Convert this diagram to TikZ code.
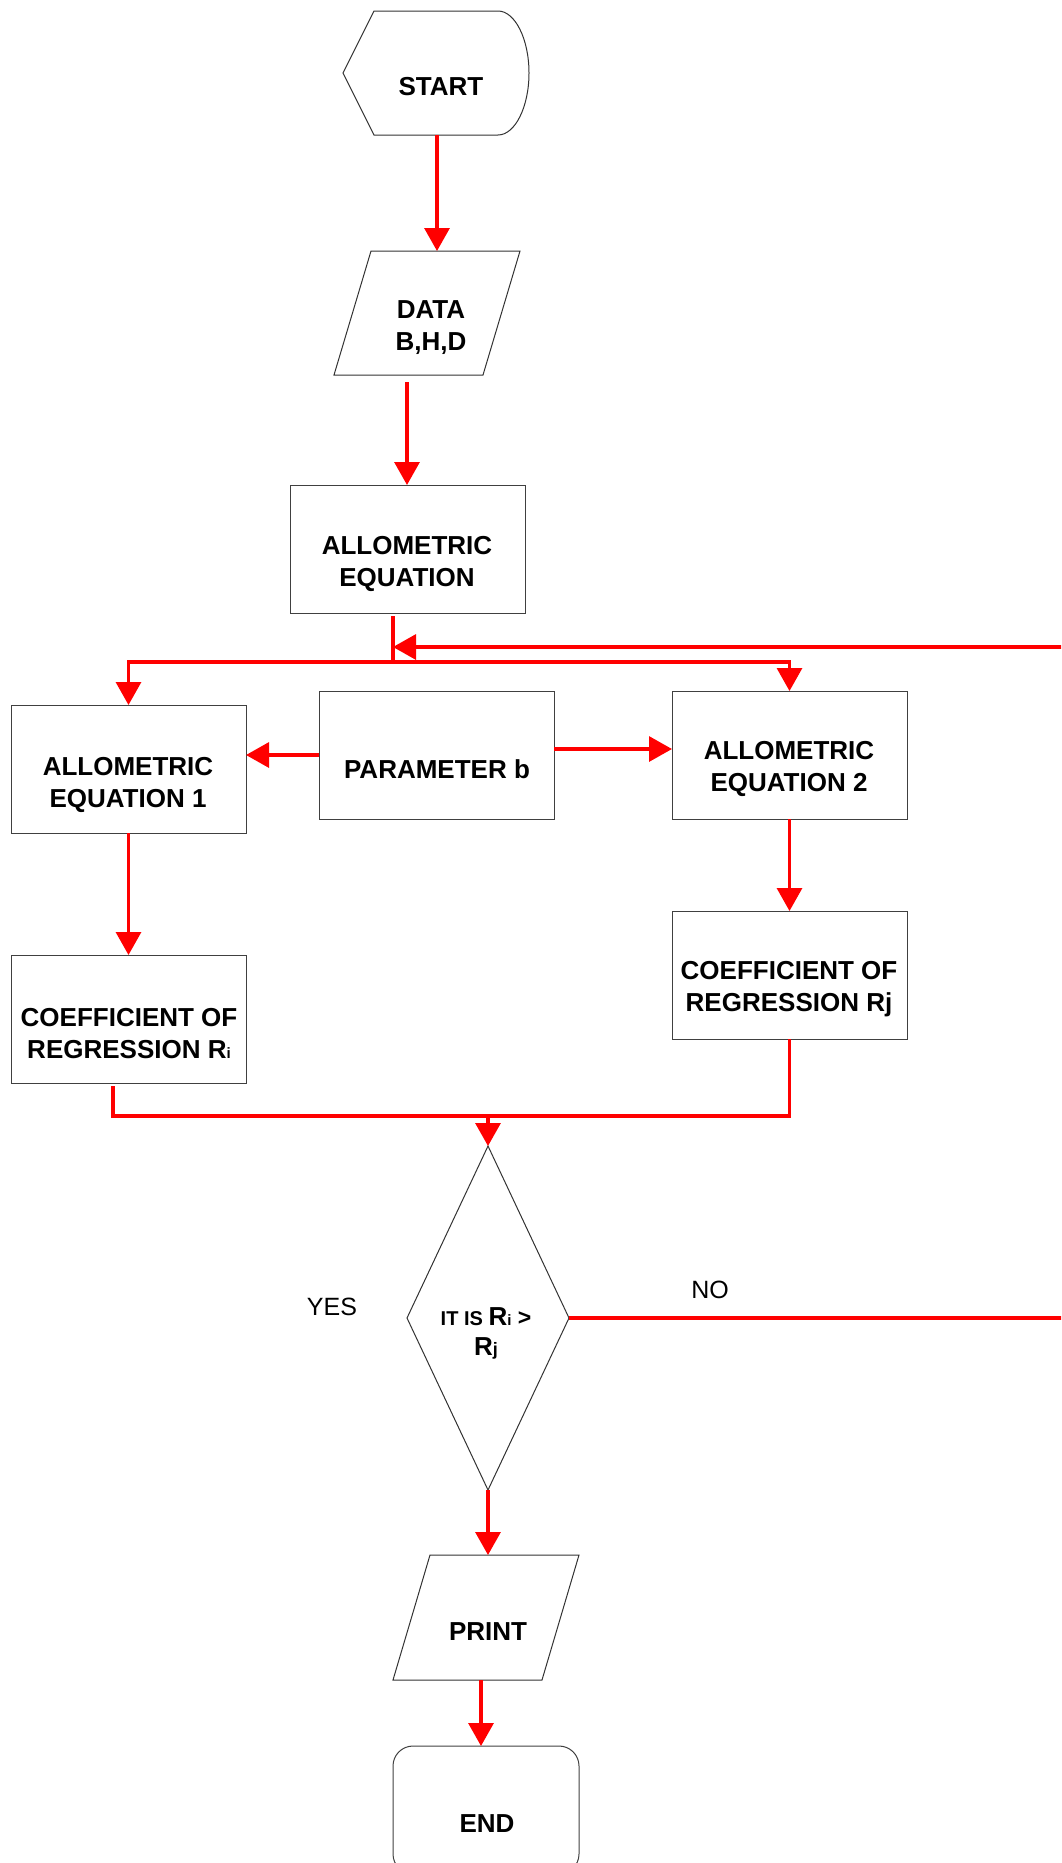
\documentclass[tikz,border=0pt]{standalone}
\usepackage{fontspec}
\setmainfont{Liberation Sans}
\usetikzlibrary{arrows.meta, shapes.geometric}

\newcommand{\lowidx}[2][15]{{\fontsize{#1}{#1}\selectfont #2}}

\begin{document}
\begin{tikzpicture}[x=1pt, y=-1pt,
    box/.style={draw=black!75, line width=1pt, rectangle, minimum width=235pt, minimum height=128pt, inner sep=0pt, outer sep=0pt},
    lbl/.style={font=\fontsize{26}{32}\selectfont\bfseries, align=center, inner sep=0pt},
    note/.style={font=\fontsize{25}{30}\selectfont, inner sep=0pt},
    shapeline/.style={draw=black!80, line width=1pt},
    wire/.style={draw=red, line width=3.2pt},
    arr/.style={wire, -{Triangle[width=25pt, length=23pt]}}]
    \useasboundingbox (0,0) rectangle (1061,1863);
    \clip (0,0) rectangle (1061,1863);

    \coordinate (S1) at (374,11);
    \coordinate (S2) at (498,11);
    \coordinate (S3) at (529,73);
    \coordinate (S4) at (498,135);
    \coordinate (S5) at (374,135);
    \coordinate (S6) at (343,73);
    \coordinate (D1) at (371,251);
    \coordinate (D2) at (520,251);
    \coordinate (D3) at (483,375);
    \coordinate (D4) at (334,375);
    \coordinate (P1) at (430,1555);
    \coordinate (P2) at (579,1555);
    \coordinate (P3) at (542,1680);
    \coordinate (P4) at (393,1680);

    \draw[shapeline] (S1) -- (S2) .. controls (515,11) and (529,39) .. (S3) .. controls (529,107) and (515,135) .. (S4) -- (S5) -- (S6) -- cycle; % start
    \draw[shapeline] (D1) -- (D2) -- (D3) -- (D4) -- cycle; % data
    \draw[shapeline] (P1) -- (P2) -- (P3) -- (P4) -- cycle; % print

    \node[lbl] (start) at (441,87) {START};
    \node[lbl] (data) at (431,328) {DATA\\B,H,D};
    \node[lbl] (print) at (488,1632) {PRINT};

    \node[box] (eq) at (407.5,549) {};
    \node[lbl] (eq-t) at (407,564) {ALLOMETRIC\\EQUATION};
    \node[box] (eq1) at (128.5,769) {};
    \node[lbl] (eq1-t) at (128,785) {ALLOMETRIC\\EQUATION 1};
    \node[box] (par) at (436.5,755) {};
    \node[lbl] (par-t) at (437,769) {PARAMETER b};
    \node[box] (eq2) at (789.5,755) {};
    \node[lbl] (eq2-t) at (789,769) {ALLOMETRIC\\EQUATION 2};
    \node[box] (cri) at (128.5,1019) {};
    \node[lbl] (cri-t) at (129,1034) {COEFFICIENT OF\\REGRESSION R\lowidx{i}};
    \node[box] (crj) at (789.5,975) {};
    \node[lbl] (crj-t) at (789,989) {COEFFICIENT OF\\REGRESSION Rj};

    \node[shapeline, diamond, minimum width=162pt, minimum height=344pt, inner sep=0pt, outer sep=0pt] (dec) at (488,1318) {};
    \node[lbl, font=\fontsize{26}{30}\selectfont\bfseries] (dec-t) at (486,1333) {\lowidx[20]{IT IS }R\lowidx{i}\lowidx[23]{ >}\\R\lowidx[18]{j}};
    \node[note] (yes) at (332,1307) {YES};
    \node[note] (no) at (710,1290) {NO};

    \node[box, minimum width=186pt, rounded corners=20pt] (stop) at (486,1810) {};
    \node[lbl] (stop-t) at (487,1824) {END};

    \coordinate (start-s) at (437,135);
    \coordinate (data-n) at (437,251);
    \coordinate (data-s) at (407,382);
    \coordinate (eq-s) at (393,616);
    \coordinate (split) at (393,662);
    \coordinate (fb) at (393,647);
    \coordinate (loop) at (1080,1318);
    \coordinate (cri-s) at (113,1086);
    \coordinate (merge) at (488,1116);
    \coordinate (print-n) at (488,1555);
    \coordinate (print-s) at (481,1680);

    \draw[arr] (start-s) -- (data-n);
    \draw[arr] (data-s) -- (data-s |- eq.north);
    \draw[wire] (eq-s) -- (split);
    \draw[arr] (split) -| (eq1.north);
    \draw[arr] (split) -| (eq2.north);
    \draw[arr] (par.west) -- (par.west -| eq1.east);
    \draw[arr] ([yshift=6pt]par.east) -- ([yshift=6pt]par.east -| eq2.west);
    \draw[arr] (eq1.south) -- (cri.north);
    \draw[arr] (eq2.south) -- (crj.north);
    \draw[wire] (cri-s) |- (merge) -| (crj.south); % both results
    \draw[arr] (merge) -- (dec.north);
    \draw[arr] (dec.east) -- (loop) |- (fb); % no: back to the equations
    \draw[arr] (dec.south) -- (print-n);
    \draw[arr] (print-s) -- (print-s |- stop.north);
\end{tikzpicture}
\end{document}
